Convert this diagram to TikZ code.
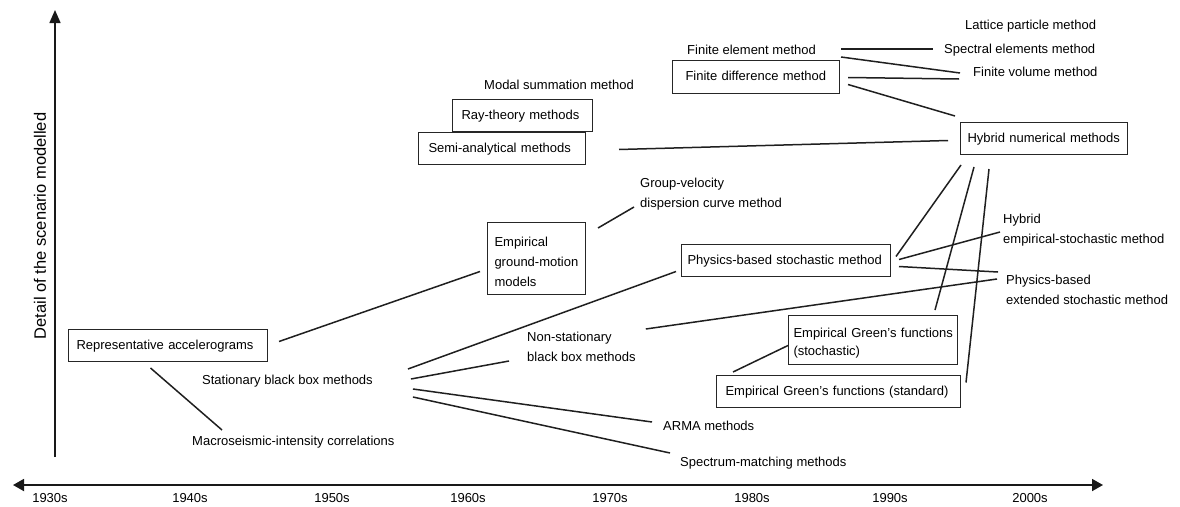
\documentclass[tikz,border=0pt]{standalone}
\usepackage{fontspec}
\setmainfont{Liberation Sans}
\usetikzlibrary{arrows.meta,calc}
\hfuzz=20pt \hbadness=10000
\hyphenpenalty=10000 \exhyphenpenalty=10000
\begin{document}
\begin{tikzpicture}[x=1pt,y=-1pt,
  font=\fontsize{13pt}{20pt}\selectfont,
  box/.style={draw=black!85, line width=1pt, anchor=north west, inner ysep=0pt, align=left, text height=9.5pt, text depth=2.5pt},
  mbox/.style={draw=black!85, line width=1pt, anchor=north west, inner ysep=0pt, align=left},
  txt/.style={anchor=west, inner sep=0pt, align=left, text height=9.5pt, text depth=2.5pt},
  mtxt/.style={anchor=west, inner sep=0pt, align=left},
  conn/.style={line width=1.5pt, black!88},
  axis/.style={line width=1.8pt, black!90},
  decade/.style={inner sep=0pt, text height=9.5pt, text depth=2.5pt}]
\useasboundingbox (0,0) rectangle (1180,506);

% axes
\coordinate (yb) at (55,457);
\coordinate (yt) at (55,10);
\coordinate (xl) at (13,485);
\coordinate (xr) at (1103,485);
\draw[axis, line width=1.4pt, -{Triangle[length=13pt,width=11pt]}] (yb) -- (yt);
\draw[axis, {Triangle[length=11pt,width=12pt]}-{Triangle[length=11pt,width=12pt]}] (xl) -- (xr);
\node[rotate=90, inner sep=0pt, font=\fontsize{16.5pt}{20pt}\selectfont] (ylab) at (40,226) {Detail of the scenario modelled};

\node[decade] (d30) at (50,499) {1930s};
\node[decade] (d40) at (190,499) {1940s};
\node[decade] (d50) at (332,499) {1950s};
\node[decade] (d60) at (468,499) {1960s};
\node[decade] (d70) at (610,499) {1970s};
\node[decade] (d80) at (752,499) {1980s};
\node[decade] (d90) at (890,499) {1990s};
\node[decade] (d00) at (1030,499) {2000s};

% boxed nodes
\node[box, inner xsep=8pt, text width=183pt, minimum height=32pt] (rep) at (68,329) {Representative accelerograms};
\node[mbox, inner xsep=7pt, text width=84pt, minimum height=72pt] (egmm) at (487,222) {\rule{0pt}{15.5pt}Empirical\\\mbox{ground-motion}\\models};
\node[box, inner xsep=10pt, text width=147pt, minimum height=32pt] (semi) at (418,132) {Semi-analytical methods};
\node[box, inner xsep=9pt, text width=122pt, minimum height=32pt] (ray) at (452,99) {Ray-theory methods};
\node[box, inner xsep=13pt, text width=141pt, minimum height=33pt] (fdm) at (672,60) {Finite difference method};
\node[box, inner xsep=7pt, text width=153pt, minimum height=32pt] (hybnum) at (960,122) {Hybrid numerical methods};
\node[box, inner xsep=6pt, text width=197pt, minimum height=32pt] (pbsm) at (681,244) {Physics-based stochastic method};
\node[mbox, inner xsep=5pt, text width=159pt, minimum height=49pt, font=\fontsize{13pt}{18pt}\selectfont] (egfsto) at (788,315) {\rule{0pt}{15pt}\mbox{Empirical Green's functions}\\(stochastic)};
\node[box, inner xsep=9pt, text width=226pt, minimum height=32pt] (egfstd) at (716,375) {Empirical Green's functions (standard)};

% plain text nodes
\node[txt] (fem) at (687,51) {Finite element method};
\node[txt] (lattice) at (965,26) {Lattice particle method};
\node[txt] (spectral) at (944,50) {Spectral elements method};
\node[txt] (fvm) at (973,73) {Finite volume method};
\node[txt] (modal) at (484,86) {Modal summation method};
\node[mtxt] (groupvel) at (640,194) {Group-velocity\\dispersion curve method};
\node[mtxt] (hybemp) at (1003,230) {Hybrid\\empirical-stochastic method};
\node[mtxt] (pbext) at (1006,290) {Physics-based\\extended stochastic method};
\node[mtxt] (nonstat) at (527,347) {Non-stationary\\black box methods};
\node[txt] (stat) at (202,381) {Stationary black box methods};
\node[txt] (macro) at (192,442) {Macroseismic-intensity correlations};
\node[txt] (arma) at (663,427) {ARMA methods};
\node[txt] (spectrum) at (680,463) {Spectrum-matching methods};

% connectors
\draw[conn] ($(rep.east)+(11,-4)$) -- ($(egmm.west)+(-7,13)$);
\draw[conn] ($(rep.south)+(-17.5,6)$) -- ($(macro.west)+(30,-12)$);
\draw[conn] ($(egmm.north east)+(12,6)$) -- ($(groupvel.west)+(-6,13)$);
\draw[conn] ($(semi.east)+(33,1)$) -- ($(hybnum.west)+(-12,2)$);
\draw[conn] ($(fem.east)+(25,-2)$) -- ($(spectral.west)+(-11,-1)$);
\draw[conn] ($(fem.east)+(25,6)$) -- ($(fvm.west)+(-13,0)$);
\draw[conn] ($(fdm.east)+(8,0.5)$) -- ($(fvm.west)+(-14,6)$);
\draw[conn] ($(fdm.east)+(8,7.5)$) -- ($(hybnum.north west)+(-5,-6)$);
\draw[conn] ($(hybnum.south west)+(1,10)$) -- ($(pbsm.east)+(5,-4)$);
\draw[conn] ($(hybnum.south west)+(14,12)$) -- ($(egfsto.north east)+(-23,-5)$);
\draw[conn] ($(hybnum.south west)+(29,14)$) -- ($(egfstd.east)+(5,-9)$);
\draw[conn] ($(pbsm.east)+(8,-1)$) -- ($(hybemp.west)+(-3,2)$);
\draw[conn] ($(pbsm.east)+(8,6)$) -- ($(pbext.west)+(-8,-18)$);
\draw[conn] ($(nonstat.east)+(10,-18)$) -- ($(pbext.west)+(-9,-11)$);
\draw[conn] ($(stat.east)+(35,-12)$) -- ($(pbsm.west)+(-5,11)$);
\draw[conn] ($(stat.east)+(38,-2)$) -- ($(nonstat.west)+(-18,14)$);
\draw[conn] ($(stat.east)+(40,8)$) -- ($(arma.west)+(-11,-5)$);
\draw[conn] ($(stat.east)+(40,16)$) -- ($(spectrum.west)+(-10,-10)$);
\draw[conn] ($(egfstd.north west)+(17,-3)$) -- ($(egfsto.west)+(0,5.5)$);
\end{tikzpicture}
\end{document}
